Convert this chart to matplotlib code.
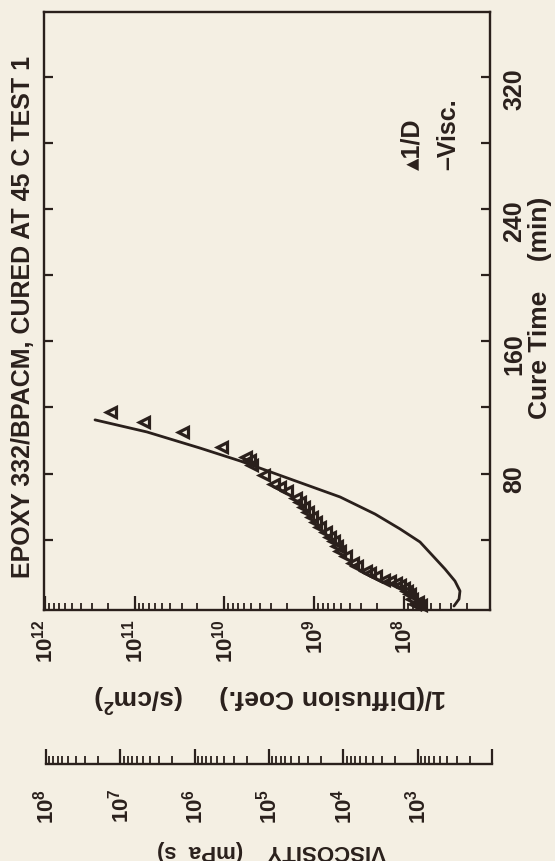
import numpy as np
import matplotlib
matplotlib.use('Agg')
import matplotlib.pyplot as plt
from matplotlib.ticker import FixedLocator, FixedFormatter, LogLocator, NullFormatter

plt.rcParams['font.family'] = ['Liberation Sans', 'DejaVu Sans']
plt.rcParams['font.weight'] = 'bold'
plt.rcParams['mathtext.fontset'] = 'custom'
plt.rcParams['mathtext.rm'] = 'Liberation Sans:bold'
plt.rcParams['mathtext.bf'] = 'Liberation Sans:bold'
plt.rcParams['mathtext.it'] = 'Liberation Sans:bold'
plt.rcParams['mathtext.default'] = 'bf'

ink = '#2a201c'
paper = '#f4efe3'

# 1/D measurements (s/cm^2) against cure time (min)
cure_time_d = [117, 111, 105, 96, 90, 88, 85, 79, 74, 72, 69.5, 65, 63, 60, 57, 54,
               51, 48, 45, 42, 39, 36, 33, 30, 26, 24, 21, 20, 18, 16, 15, 14,
               13, 11, 9, 7, 4, 1, 2.5, 0.5]
inv_diff = [1.84e11, 7.9e10, 2.9e10, 1.07e10, 5.8e9, 5.2e9, 4.9e9, 3.6e9, 2.8e9,
            2.4e9, 2.0e9, 1.6e9, 1.44e9, 1.30e9, 1.17e9, 1.06e9, 9.6e8, 8.6e8,
            7.4e8, 6.7e8, 6.0e8, 5.6e8, 5.2e8, 4.4e8, 3.7e8, 3.3e8, 2.65e8, 2.4e8,
            2.05e8, 1.67e8, 1.44e8, 1.23e8, 1.11e8, 1.0e8, 9.3e7, 8.6e7, 8.2e7,
            7.6e7, 7.0e7, 6.5e7]

# viscosity curve (mPa s) against cure time (min)
cure_time_v = [112.5, 105.2, 95.5, 87.7, 76.8, 65.9, 55.6, 46.6, 38.7, 30.2, 22.4,
               15.1, 9.1, 4.2, 0]
viscosity = [2.19e7, 4.38e6, 8.5e5, 2.45e5, 5.2e4, 1.10e4, 3.73e3, 1.72e3, 925,
             618, 427, 313, 268, 276, 323]

time_ticks = [40, 80, 120, 160, 200, 240, 280, 320]
time_labels = ['', '80', '', '160', '', '240', '', '320']
d_ticks = [1e12, 1e11, 1e10, 1e9, 1e8]
d_labels = ['$10^{12}$', '$10^{11}$', '$10^{10}$', '$10^{9}$', '$10^{8}$']
visc_ticks = [1e8, 1e7, 1e6, 1e5, 1e4, 1e3, 1e2]
visc_labels = ['$10^{8}$', '$10^{7}$', '$10^{6}$', '$10^{5}$', '$10^{4}$', '$10^{3}$', '']

W, H = 555, 862


def box(x0, y0, x1, y1):
    # pixel box -> figure fraction rect
    return [x0 / W, 1 - y1 / H, (x1 - x0) / W, (y1 - y0) / H]


fig = plt.figure(figsize=(W / 100, H / 100), dpi=100)
fig.patch.set_facecolor(paper)

ax = fig.add_axes(box(44, 13, 490, 611))
ax.set_facecolor('none')
ax.set_xscale('log')
ax.set_xlim(10 ** 12.01, 10 ** 7.04)
ax.set_ylim(-2.4, 359)
for s in ax.spines.values():
    s.set_linewidth(1.7)
    s.set_color(ink)

ax.xaxis.set_major_locator(FixedLocator(d_ticks))
ax.xaxis.set_major_formatter(FixedFormatter(d_labels))
ax.xaxis.set_minor_locator(LogLocator(base=10, subs=np.arange(2, 10), numticks=60))
ax.xaxis.set_minor_formatter(NullFormatter())
ax.tick_params(axis='x', which='major', direction='in', length=10, width=1.6,
               pad=6, labelsize=16, labelrotation=90, colors=ink)
ax.tick_params(axis='x', which='minor', direction='in', length=5, width=1.3, colors=ink)

ax.yaxis.set_major_locator(FixedLocator(time_ticks))
ax.yaxis.set_major_formatter(FixedFormatter(time_labels))
ax.tick_params(axis='y', direction='in', length=6.5, width=1.6, left=True, right=True,
               labelleft=False, labelright=True, labelsize=18, labelrotation=90,
               pad=9, colors=ink)

ax.plot(inv_diff, cure_time_d, linestyle='none', marker='<', ms=7.5, mfc='none',
        mec=ink, mew=2.3, clip_on=False)

# viscosity drawn on its own log scale over the same box
axv2 = ax.twiny()
axv2.set_xscale('log')
axv2.set_xlim(10 ** 8.027, 10 ** 2.024)
axv2.axis('off')
axv2.plot(viscosity, cure_time_v, color=ink, lw=2.0, solid_capstyle='round')

ax.text(0.827, 0.737, '\u25b41/D', rotation=90, ha='center', va='bottom',
        transform=ax.transAxes, fontsize=18, color=ink)
ax.text(0.906, 0.737, '\u2013Visc.', rotation=90, ha='center', va='bottom',
        transform=ax.transAxes, fontsize=18, color=ink)

# separate viscosity scale at the bottom
axv = fig.add_axes(box(46, 745, 492, 765))
axv.set_facecolor('none')
for side in ['top', 'left', 'right']:
    axv.spines[side].set_visible(False)
axv.spines['bottom'].set_linewidth(1.7)
axv.spines['bottom'].set_color(ink)
axv.set_xscale('log')
axv.set_xlim(1e8, 1e2)
axv.set_yticks([])
axv.xaxis.set_major_locator(FixedLocator(visc_ticks))
axv.xaxis.set_major_formatter(FixedFormatter(visc_labels))
axv.xaxis.set_minor_locator(LogLocator(base=10, subs=np.arange(2, 10), numticks=60))
axv.xaxis.set_minor_formatter(NullFormatter())
axv.tick_params(axis='x', which='major', direction='in', length=11, width=1.6,
                pad=17, labelsize=16, labelrotation=90, colors=ink)
axv.tick_params(axis='x', which='minor', direction='in', length=5.5, width=1.3, colors=ink)

fig.text(23 / W, 1 - 317 / H, 'EPOXY 332/BPACM, CURED AT 45 C TEST 1', rotation=90,
         ha='center', va='center', fontsize=18, color=ink)
fig.text(540 / W, 1 - 308 / H, 'Cure Time    (min)', rotation=90,
         ha='center', va='center', fontsize=19, color=ink)
fig.text(270 / W, 1 - 697 / H, '1/(Diffusion Coef.)     (s/cm$^2$)', rotation=180,
         ha='center', va='center', fontsize=19, color=ink)
fig.text(272 / W, 1 - 851 / H, 'VISCOSITY    (mPa  s)', rotation=180,
         ha='center', va='center', fontsize=16, color=ink)

fig.savefig('out.png', dpi=100, facecolor=paper)
